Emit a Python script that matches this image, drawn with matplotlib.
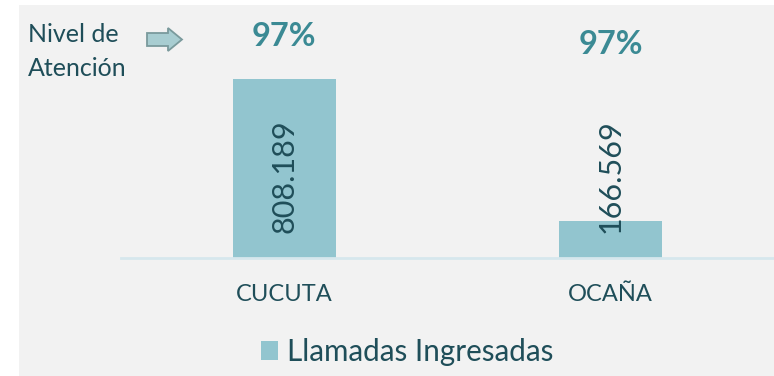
import matplotlib
matplotlib.use("Agg")
import matplotlib.pyplot as plt
from matplotlib.patches import Rectangle, FancyArrow
from matplotlib.transforms import blended_transform_factory

plt.rcParams['font.family'] = ['Lato', 'DejaVu Sans']

# Data
categories = ["CUCUTA", "OCAÑA"]
llamadas = [808189, 166569]
value_labels = ["808.189", "166.569"]
nivel_atencion = ["97%", "97%"]
series_name = "Llamadas Ingresadas"

W, H = 774, 376
DPI = 100
TEXT = "#1f4e59"
PCT = "#3b8a94"
BAR = "#92c5cf"
PANEL = "#f2f2f2"
AXIS = "#d6e7ed"

fig = plt.figure(figsize=(W / DPI, H / DPI), dpi=DPI, facecolor="white")

def fx(px):
    return px / W

def fy(py):
    return 1 - py / H

# Gray panel behind the chart
fig.patches.append(Rectangle((fx(19), 0), 1 - fx(19), fy(5), transform=fig.transFigure,
                             facecolor=PANEL, edgecolor="none", zorder=-5))

# Plot area: baseline at y=258 px, spans x=121..774 px
ymax = 1_000_000
base_px = 258
px_per_unit = 179 / 808189
ax_h = ymax * px_per_unit
ax = fig.add_axes([fx(121), fy(base_px), 1 - fx(121), ax_h / H])
ax.set_facecolor("none")
ax.set_xlim(-0.5, 1.5)
ax.set_ylim(0, ymax)

x = list(range(len(categories)))
ax.bar(x, llamadas, width=0.316, color=BAR, label=series_name, zorder=2)

for side in ["top", "right", "left"]:
    ax.spines[side].set_visible(False)
ax.spines["bottom"].set_color(AXIS)
ax.spines["bottom"].set_linewidth(2)
ax.set_yticks([])
ax.set_xticks(x, labels=categories)
ax.tick_params(axis="x", length=0, pad=19, labelsize=17, labelcolor=TEXT)

# Rotated value labels inside the bars
trans = blended_transform_factory(ax.transData, ax.transAxes)
for xi, lab in zip(x, value_labels):
    ax.text(xi, 25 / ax_h, lab, transform=trans, rotation=90, ha="center", va="bottom",
            fontsize=22, color=TEXT, zorder=3)

# Service level percentages above each bar
pct_y = [37, 44]
for xi, lab, py in zip(x, nivel_atencion, pct_y):
    xf = fig.transFigure.inverted().transform(ax.transData.transform((xi, 0)))[0]
    fig.text(xf, fy(py), lab, ha="center", va="center", fontsize=23.5,
             fontweight="bold", color=PCT)

# Side caption with arrow
fig.text(fx(28), fy(42), "Nivel de", ha="left", va="baseline", fontsize=18, color=TEXT)
fig.text(fx(28), fy(76), "Atención", ha="left", va="baseline", fontsize=18, color=TEXT)
arrow = FancyArrow(fx(147), fy(39.5), fx(35), 0, width=13 / H, head_width=23 / H,
                   head_length=fx(14), length_includes_head=True,
                   transform=fig.transFigure, facecolor="#a8cdd1", edgecolor="#7a9a9c",
                   linewidth=1.3)
fig.patches.append(arrow)

# Legend
fig.legend(loc="center", bbox_to_anchor=(fx(407), fy(352)), frameon=False,
           fontsize=21.3, labelcolor=TEXT, handlelength=0.6, handleheight=0.6,
           handletextpad=0.3, borderpad=0, borderaxespad=0)

fig.savefig("out.png", dpi=DPI, facecolor="white")
